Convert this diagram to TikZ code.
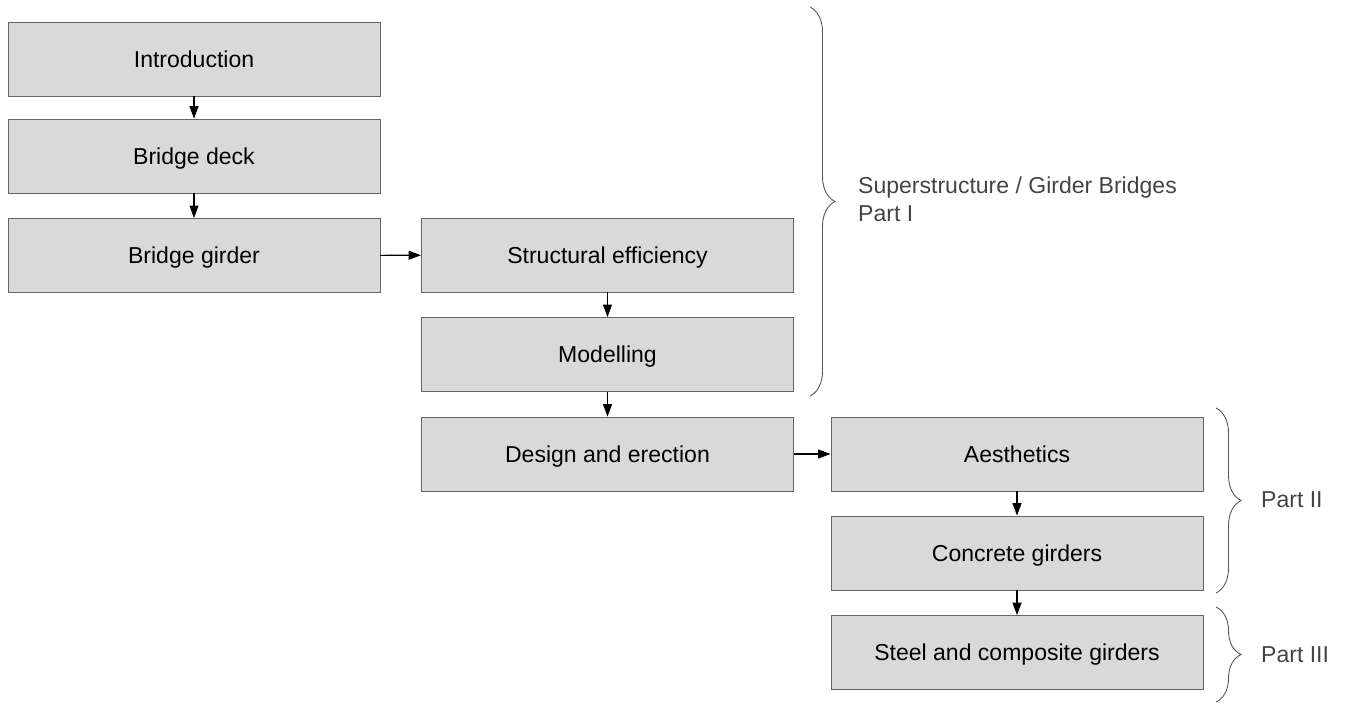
\documentclass[tikz,border=0pt]{standalone}
\usepackage{fontspec}
\setmainfont{Liberation Sans}
\usetikzlibrary{arrows.meta,decorations.pathreplacing}

\definecolor{boxfill}{HTML}{D9D9D9}
\definecolor{boxline}{HTML}{666666}
\definecolor{bracegray}{HTML}{555555}
\definecolor{labelgray}{HTML}{444444}

\tikzset{
    chapter/.style={rectangle, draw=boxline, fill=boxfill, line width=0.5pt,
        minimum width=7.44cm, minimum height=1.48cm, inner sep=0pt,
        text height=9.4pt, text depth=0pt,
        font=\fontsize{13.1}{15}\selectfont},
    flow/.style={-{Triangle[length=2.5mm,width=1.8mm]}, line width=0.6pt},
    partbrace/.style={draw=bracegray, line width=0.5pt,
        decorate, decoration={brace, amplitude=0.5cm}},
    partlabel/.style={anchor=west, align=left, text=labelgray,
        font=\fontsize{13.1}{15.9}\selectfont}
}

\begin{document}
\begin{tikzpicture}

    \useasboundingbox (0,0) rectangle (26.94,-14.08);

    % Left column
    \node[chapter] (intro) at (3.88,-1.18) {Introduction};
    \node[chapter] (deck) at (3.88,-3.12) {Bridge deck};
    \node[chapter] (girder) at (3.88,-5.11) {Bridge girder};

    % Middle column
    \node[chapter] (effic) at (12.15,-5.10) {Structural efficiency};
    \node[chapter] (model) at (12.15,-7.09) {Modelling};
    \node[chapter] (design) at (12.15,-9.08) {Design and erection};

    % Right column
    \node[chapter] (aesth) at (20.34,-9.08) {Aesthetics};
    \node[chapter] (concrete) at (20.34,-11.06) {Concrete girders};
    \node[chapter] (steel) at (20.34,-13.05) {Steel and composite girders};

    % Edges
    \draw[flow] (intro) -- (deck);
    \draw[flow] (deck) -- (girder);
    \draw[flow] (girder) -- (effic);
    \draw[flow] (effic) -- (model);
    \draw[flow] (model) -- (design);
    \draw[flow] (design) -- (aesth);
    \draw[flow] (aesth) -- (concrete);
    \draw[flow] (concrete) -- (steel);

    % Braces
    \coordinate (p1top) at (16.2,-0.14);
    \coordinate (p1bot) at (16.2,-7.92);
    \coordinate (p2top) at (24.32,-8.16);
    \coordinate (p2bot) at (24.32,-11.86);
    \coordinate (p3top) at (24.32,-12.14);
    \coordinate (p3bot) at (24.32,-14.04);
    \draw[partbrace] (p1top) -- (p1bot);
    \draw[partbrace] (p2top) -- (p2bot);
    \draw[partbrace] (p3top) -- (p3bot);

    % Part labels
    \node[partlabel] (part1) at (17.04,-3.98) {Superstructure / Girder Bridges\\Part I};
    \node[partlabel] (part2) at (25.1,-10.0) {Part II};
    \node[partlabel] (part3) at (25.1,-13.1) {Part III};

\end{tikzpicture}
\end{document}
